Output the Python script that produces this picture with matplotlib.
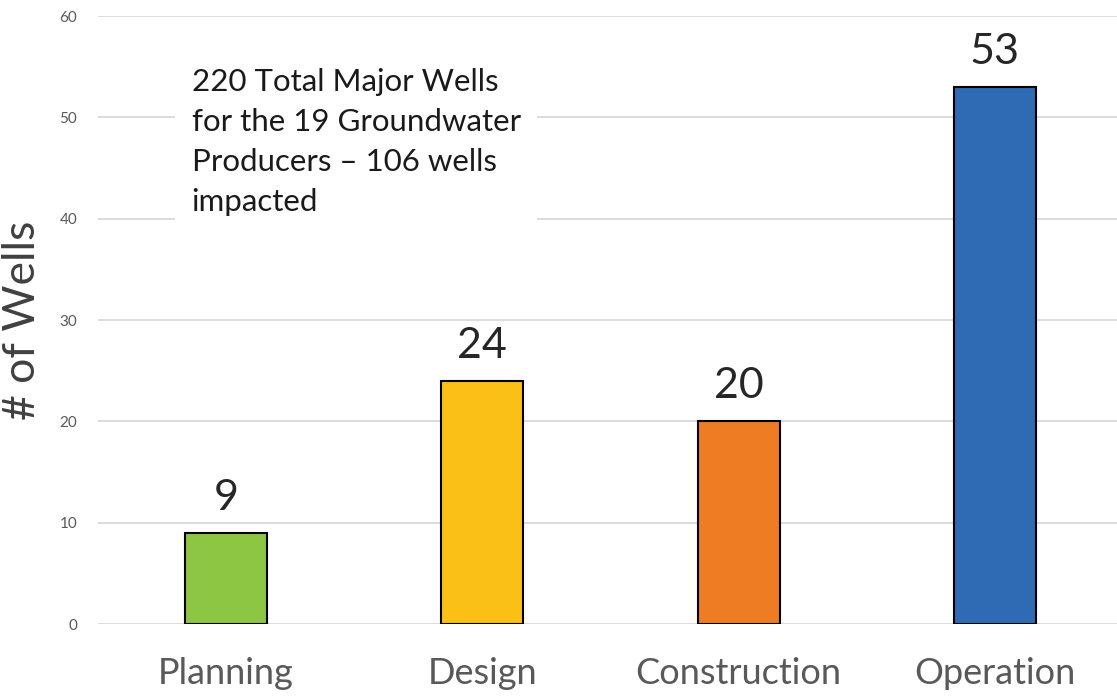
import matplotlib.pyplot as plt

# 데이터
stages = ["Planning", "Design", "Construction", "Operation"]
wells = [9, 24, 20, 53]
bar_colors = ["#8dc642", "#fac016", "#ee7c23", "#2f6bb5"]
note = "220 Total Major Wells\nfor the 19 Groundwater\nProducers \u2013 106 wells\nimpacted"

plt.rcParams['font.family'] = ['Lato', 'DejaVu Sans']

fig = plt.figure(figsize=(11.17, 6.96), dpi=100)
ax = fig.add_axes([0.0877, 0.1034, 0.9123, 0.8736])

x = range(len(stages))
bars = ax.bar(x, wells, width=0.32, color=bar_colors, edgecolor="black", linewidth=1.5, zorder=3)

for xi, v in zip(x, wells):
    ax.text(xi, v + 1.6, str(v), ha="center", va="bottom", fontsize=31, color="#262626")

ax.set_ylim(0, 60)
ax.set_xlim(-0.5, 3.476)
ax.set_yticks(range(0, 61, 10))
ax.set_xticks(list(x))
ax.set_xticklabels(stages, fontsize=26, color="#595959")
ax.tick_params(axis="y", labelsize=11, colors="#595959", length=0, pad=15)
ax.tick_params(axis="x", length=0, pad=24)
ax.grid(axis="y", color="#d9d9d9", linewidth=1.3, zorder=0)
for s in ax.spines.values():
    s.set_visible(False)

ax.set_ylabel("# of Wells", fontsize=32, color="#404040", labelpad=12)

ax.text(0.092, 0.915, note, transform=ax.transAxes, ha="left", va="top",
        fontsize=22.5, color="#1a1a1a", linespacing=1.53, zorder=4,
        bbox=dict(facecolor="white", edgecolor="none", pad=12))

fig.savefig("out.png", dpi=100)
